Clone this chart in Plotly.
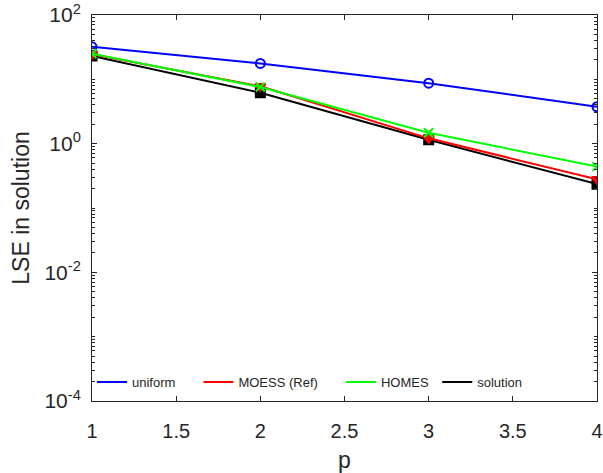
import plotly.graph_objects as go

p = [1, 2, 3, 4]
uniform = [32.0, 17.7, 8.7, 3.75]
moess = [24.5, 7.8, 1.21, 0.279]
homes = [25.0, 7.6, 1.48, 0.44]
solution = [23.0, 6.2, 1.15, 0.235]

names = ["uniform", "MOESS (Ref)", "HOMES", "solution"]
colors = ["#0000FF", "#FF0000", "#00FF00", "#000000"]
symbols = ["circle-open", "triangle-down", "x-thin-open", "square"]
series = [uniform, moess, homes, solution]

fig = go.Figure()
draw_order = [3, 0, 1, 2]
for i in draw_order:
    mk = dict(symbol=symbols[i], size=9, color=colors[i], line=dict(color=colors[i], width=2))
    fig.add_trace(go.Scatter(x=p, y=series[i], mode="lines+markers", name=names[i],
                             line=dict(color=colors[i], width=2), marker=mk, showlegend=False))
pads = [5, 5, 1, 0]
for i in range(4):
    fig.add_trace(go.Scatter(x=[None], y=[None], mode="lines", name=names[i] + "&nbsp;" * pads[i],
                             line=dict(color=colors[i], width=2), showlegend=True))

major = [1e-4, 1e-2, 1e0, 1e2]
major_text = ["10<sup>-4</sup>", "10<sup>-2</sup>", "10<sup>0</sup>", "10<sup>2</sup>"]
minor_vals = []
for e in range(-4, 2):
    for m in range(1, 10):
        v = m * 10 ** e
        if v not in major:
            minor_vals.append(v)

axis_color = "#262626"
fig.update_layout(
    width=603, height=473,
    margin=dict(l=92, r=6, t=15, b=72),
    paper_bgcolor="white", plot_bgcolor="white",
    font=dict(family="Liberation Sans, Arial, sans-serif", color=axis_color),
    xaxis=dict(range=[1, 4], tickvals=[1, 1.5, 2, 2.5, 3, 3.5, 4],
               ticktext=["1", "1.5", "2", "2.5", "3", "3.5", "4"],
               ticks="inside", ticklen=5, tickcolor=axis_color, showline=True,
               linecolor=axis_color, linewidth=1, mirror="ticks", showgrid=False,
               zeroline=False, tickfont=dict(size=20), ticklabelstandoff=12,
               automargin=False,
               title=dict(text="p", font=dict(size=23), standoff=12)),
    yaxis=dict(type="log", range=[-4, 2], tickvals=major, ticktext=major_text,
               ticks="inside", ticklen=5, tickcolor=axis_color, showline=True,
               linecolor=axis_color, linewidth=1, mirror="ticks", showgrid=False,
               zeroline=False, tickfont=dict(size=21), ticklabelstandoff=6,
               automargin=False,
               minor=dict(tickvals=minor_vals, ticks="inside", ticklen=3,
                          tickcolor=axis_color, showgrid=False),
               title=dict(text="LSE in solution", font=dict(size=23), standoff=8)),
    legend=dict(orientation="h", x=0.0, y=0.01, xanchor="left", yanchor="bottom",
                bgcolor="rgba(0,0,0,0)", font=dict(size=13), itemwidth=30,
                tracegroupgap=0),
)

fig.write_html("out.html")
